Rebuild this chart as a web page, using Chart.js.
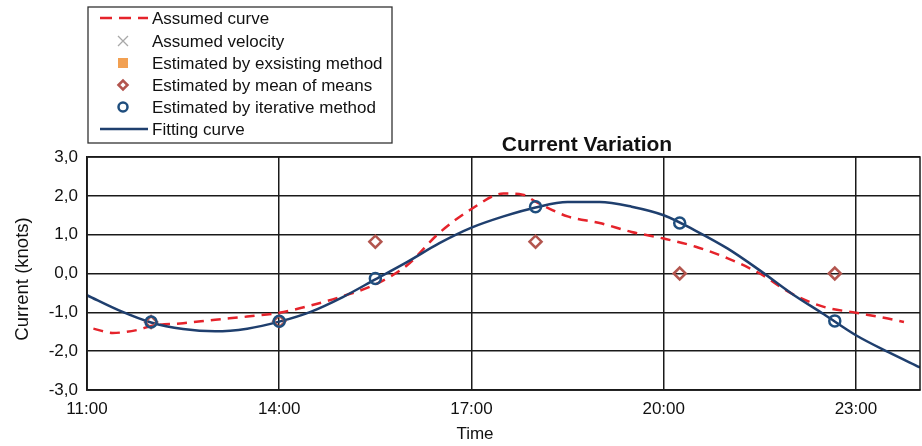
<!DOCTYPE html>
<html>
<head>
<meta charset="utf-8">
<script src="https://cdn.jsdelivr.net/npm/chart.js@4/dist/chart.umd.min.js"></script>
<style>
  html, body { margin: 0; padding: 0; background: #fff; }
  #wrap { width: 922px; height: 446px; }
</style>
</head>
<body>
<div id="wrap"><canvas id="current-chart" width="922" height="446"></canvas></div>
<script>
// times are decimal hours
const assumedX = [11.1, 11.4, 11.8, 12, 12.5, 13, 13.5, 14, 14.5, 15, 15.5, 16, 16.5, 17, 17.5, 17.8, 18, 18.5, 19, 19.5, 20, 20.5, 21, 21.5, 22, 22.5, 23, 23.5, 23.75];
const assumedY = [-1.42, -1.53, -1.45, -1.35, -1.28, -1.19, -1.11, -1.01, -0.82, -0.58, -0.28, 0.22, 1.05, 1.66, 2.06, 2.03, 1.85, 1.47, 1.3, 1.07, 0.9, 0.69, 0.39, 0.0, -0.52, -0.86, -1.01, -1.16, -1.25];

const fitX = [11, 11.5, 12, 12.5, 13, 13.5, 14, 14.5, 15, 15.5, 16, 16.5, 17, 17.5, 18, 18.5, 19, 19.5, 20, 20.5, 21, 21.5, 22, 22.5, 23, 23.5, 24];
const fitY = [-0.56, -0.95, -1.26, -1.43, -1.49, -1.42, -1.24, -0.98, -0.6, -0.15, 0.3, 0.78, 1.18, 1.47, 1.7, 1.84, 1.84, 1.72, 1.5, 1.1, 0.64, 0.08, -0.52, -1.05, -1.59, -2.02, -2.42];

const iterX = [12, 14, 15.5, 18, 20.25, 22.67];
const iterY = [-1.25, -1.23, -0.13, 1.72, 1.3, -1.22];

const meanX = [12, 14, 15.5, 18, 20.25, 22.67];
const meanY = [-1.25, -1.23, 0.82, 0.82, 0, 0];

const velocityX = [];
const velocityY = [];
const existingX = [];
const existingY = [];

const xTickValues = [11, 14, 17, 20, 23];
const xTickLabels = ['11:00', '14:00', '17:00', '20:00', '23:00'];

const chartTitle = 'Current Variation';
const xTitle = 'Time';
const yTitle = 'Current (knots)';
const legendLabels = ['Assumed curve', 'Assumed velocity', 'Estimated by exsisting method', 'Estimated by mean of means', 'Estimated by iterative method', 'Fitting curve'];

const FONT = "'Liberation Sans', Arial, sans-serif";
const RED = '#e5232b';
const NAVY = '#1f3f6e';
const CIRCLE = '#1f4e7e';
const DIAMOND = '#b3554e';
const ORANGE = '#f2a052';
const GRAY = '#a8a8a8';

function pts(xs, ys) {
    return xs.map((x, i) => ({ x: x, y: ys[i] }));
}

// legend box, titles and plot frame drawn straight on the canvas
const decorations = {
    id: 'decorations',
    afterDraw(chart) {
        const ctx = chart.ctx;
        const area = chart.chartArea;
        ctx.save();

        // plot frame
        ctx.strokeStyle = '#1a1a1a';
        ctx.lineWidth = 1.5;
        ctx.strokeRect(area.left, area.top, area.right - area.left, area.bottom - area.top);

        // chart title
        ctx.fillStyle = '#111';
        ctx.font = 'bold 21px ' + FONT;
        ctx.textAlign = 'center';
        ctx.textBaseline = 'middle';
        ctx.fillText(chartTitle, 587, 145);

        // axis titles
        ctx.font = '17px ' + FONT;
        ctx.fillText(xTitle, 475, 434);
        ctx.save();
        ctx.translate(23, 279);
        ctx.rotate(-Math.PI / 2);
        ctx.font = '18.5px ' + FONT;
        ctx.fillText(yTitle, 0, 0);
        ctx.restore();

        // legend
        ctx.lineWidth = 1.3;
        ctx.strokeStyle = '#333';
        ctx.strokeRect(88, 7, 304, 136);
        ctx.font = '17px ' + FONT;
        ctx.textAlign = 'left';
        const rowY = [18, 41, 63, 85, 107, 129];
        const sx = 123;
        legendLabels.forEach((label, i) => {
            const y = rowY[i];
            ctx.fillStyle = '#111';
            ctx.fillText(label, 152, y + 1);
            if (i === 0) {
                ctx.strokeStyle = RED; ctx.lineWidth = 2.5; ctx.setLineDash([12, 7]);
                ctx.beginPath(); ctx.moveTo(100, y); ctx.lineTo(148, y); ctx.stroke();
                ctx.setLineDash([]);
            } else if (i === 1) {
                ctx.strokeStyle = GRAY; ctx.lineWidth = 1.3;
                ctx.beginPath();
                ctx.moveTo(sx - 5, y - 5); ctx.lineTo(sx + 5, y + 5);
                ctx.moveTo(sx + 5, y - 5); ctx.lineTo(sx - 5, y + 5);
                ctx.stroke();
            } else if (i === 2) {
                ctx.fillStyle = ORANGE;
                ctx.fillRect(sx - 5, y - 5, 10, 10);
            } else if (i === 3) {
                ctx.strokeStyle = DIAMOND; ctx.lineWidth = 2.5;
                ctx.beginPath();
                ctx.moveTo(sx - 4.5, y); ctx.lineTo(sx, y - 4.5); ctx.lineTo(sx + 4.5, y); ctx.lineTo(sx, y + 4.5);
                ctx.closePath(); ctx.stroke();
            } else if (i === 4) {
                ctx.strokeStyle = CIRCLE; ctx.lineWidth = 2.5;
                ctx.beginPath(); ctx.arc(sx, y, 4.5, 0, Math.PI * 2); ctx.stroke();
            } else {
                ctx.strokeStyle = NAVY; ctx.lineWidth = 2.5;
                ctx.beginPath(); ctx.moveTo(100, y); ctx.lineTo(148, y); ctx.stroke();
            }
        });
        ctx.restore();
    }
};

new Chart(document.querySelector('#current-chart').getContext('2d'), {
    type: 'scatter',
    data: {
        datasets: [
            {
                label: legendLabels[4],
                data: pts(iterX, iterY),
                pointStyle: 'circle',
                pointRadius: 5.5,
                borderColor: CIRCLE,
                backgroundColor: 'rgba(0,0,0,0)',
                borderWidth: 2.5,
                order: 0
            },
            {
                label: legendLabels[3],
                data: pts(meanX, meanY),
                pointStyle: 'rectRot',
                pointRadius: 6,
                borderColor: DIAMOND,
                backgroundColor: 'rgba(0,0,0,0)',
                borderWidth: 2.5,
                order: 1
            },
            {
                label: legendLabels[2],
                data: pts(existingX, existingY),
                pointStyle: 'rect',
                pointRadius: 5,
                backgroundColor: ORANGE,
                borderColor: ORANGE,
                order: 1
            },
            {
                label: legendLabels[1],
                data: pts(velocityX, velocityY),
                pointStyle: 'crossRot',
                pointRadius: 5,
                borderColor: GRAY,
                order: 1
            },
            {
                label: legendLabels[5],
                data: pts(fitX, fitY),
                showLine: true,
                borderColor: NAVY,
                borderWidth: 2.5,
                pointRadius: 0,
                cubicInterpolationMode: 'monotone',
                order: 2
            },
            {
                label: legendLabels[0],
                data: pts(assumedX, assumedY),
                showLine: true,
                borderColor: RED,
                borderWidth: 2.5,
                borderDash: [10, 7],
                pointRadius: 0,
                cubicInterpolationMode: 'monotone',
                order: 3
            }
        ]
    },
    options: {
        responsive: false,
        animation: false,
        // no auto padding, otherwise the point size eats into the right edge
        layout: { autoPadding: false, padding: { top: 157, right: 2, left: 0, bottom: 0 } },
        plugins: {
            legend: { display: false },
            title: { display: false },
            tooltip: { enabled: false }
        },
        scales: {
            x: {
                type: 'linear',
                min: 11,
                max: 24,
                afterBuildTicks: scale => {
                    scale.ticks = xTickValues.map(v => ({ value: v }));
                },
                afterFit: scale => {
                    scale.height = 56;
                    scale.paddingLeft = 0;
                    scale.paddingRight = 0;
                },
                ticks: {
                    callback: value => xTickLabels[xTickValues.indexOf(value)],
                    color: '#111',
                    padding: 0,
                    maxRotation: 0,
                    font: { family: FONT, size: 17 }
                },
                // invisible tick marks push the labels below the axis
                grid: { color: '#1a1a1a', lineWidth: 1.5, drawTicks: true, tickLength: 9, tickColor: 'rgba(0,0,0,0)' },
                border: { color: '#1a1a1a', width: 1.5 }
            },
            y: {
                min: -3,
                max: 3,
                afterFit: scale => { scale.width = 87; },
                ticks: {
                    stepSize: 1,
                    callback: value => value.toFixed(1).replace('.', ','),
                    color: '#111',
                    padding: 9,
                    font: { family: FONT, size: 17 }
                },
                grid: { color: '#1a1a1a', lineWidth: 1.5, drawTicks: false },
                border: { color: '#1a1a1a', width: 1.5 }
            }
        }
    },
    plugins: [decorations]
});
</script>
</body>
</html>
